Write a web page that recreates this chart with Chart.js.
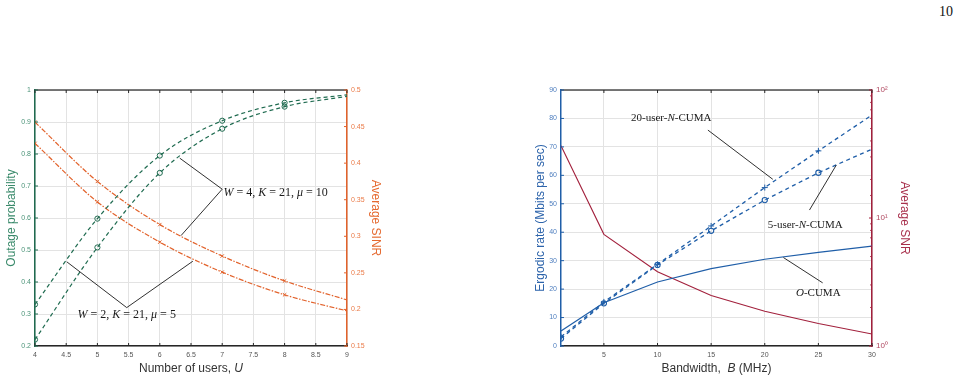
<!DOCTYPE html>
<html>
<head>
<meta charset="utf-8">
<script src="https://cdn.jsdelivr.net/npm/chart.js@4.4.1/dist/chart.umd.min.js"></script>
<style>
  body { margin: 0; background: #fff; width: 967px; height: 380px; position: relative; overflow: hidden; }
  #pageNo { position: absolute; left: 939px; top: 4px; font: 14px "Liberation Serif", serif; color: #111; }
  .box { position: absolute; top: 80px; height: 300px; }
</style>
</head>
<body>
<div id="pageNo">10</div>
<div class="box" style="left:0;width:400px"><canvas id="outageChart"></canvas></div>
<div class="box" style="left:529px;width:438px"><canvas id="rateChart"></canvas></div>
<script>
// left figure: outage probability / average SINR vs number of users
const users = [4, 5, 6, 7, 8, 9];
const outageW2 = [0.33, 0.598, 0.795, 0.904, 0.960, 0.985];
const outageW4 = [0.22, 0.508, 0.741, 0.879, 0.948, 0.980];
const sinrW4 = [0.456, 0.375, 0.316, 0.273, 0.239, 0.213];
const sinrW2 = [0.427, 0.347, 0.292, 0.251, 0.220, 0.198];
const userTicks = [4, 4.5, 5, 5.5, 6, 6.5, 7, 7.5, 8, 8.5, 9];

// right figure: ergodic rate / average SNR vs bandwidth
const bandwidth = [1, 5, 10, 15, 20, 25, 30];
const rateOCuma = [5.3, 15.2, 22.5, 27.2, 30.5, 32.9, 35.1];
const rate20User = [3.2, 15.5, 28.7, 42.2, 55.7, 68.6, 81.2];
const rate5User = [2.6, 15.0, 28.5, 40.5, 51.3, 60.9, 69.2];
const avgSnr = [36.7, 7.45, 3.8, 2.48, 1.87, 1.5, 1.24];
const bandwidthTicks = [5, 10, 15, 20, 25, 30];

const SANS = '"Liberation Sans", Arial, sans-serif';
const SERIF = '"Liberation Serif", serif';
const GREEN = '#1f6b50', ORANGE = '#e2622b', BLUE = '#1f5ea8', RED = '#a2203c';

const pts = (xs, ys) => xs.map((x, i) => ({ x: x, y: ys[i] }));
const fmt = v => String(Number(v.toFixed(3)));
const sup = { 0: '\u2070', 1: '\u00b9', 2: '\u00b2' };

// inward tick marks, top box line, annotations
const frame = {
  id: 'frame',
  afterDatasetsDraw(chart, args, opts) {
    const { ctx, chartArea: a, scales } = chart;
    ctx.save();
    ctx.strokeStyle = '#4d4d4d';
    ctx.lineWidth = 1.5;
    ctx.beginPath(); ctx.moveTo(a.left, a.top); ctx.lineTo(a.right, a.top); ctx.stroke();
    ctx.lineWidth = 1;
    for (const s of Object.values(scales)) {
      const isLog = s.type === 'logarithmic';
      ctx.strokeStyle = s.options.border.color;
      for (const t of s.ticks) {
        const p = s.getPixelForValue(t.value);
        const major = !isLog || Math.abs(Math.log10(t.value) - Math.round(Math.log10(t.value))) < 1e-9;
        const len = major ? 3 : 1.8;
        ctx.beginPath();
        if (s.isHorizontal()) {
          ctx.moveTo(p, a.bottom); ctx.lineTo(p, a.bottom - len);
          ctx.moveTo(p, a.top); ctx.lineTo(p, a.top + len);
        } else if (s.position === 'left') {
          ctx.moveTo(a.left, p); ctx.lineTo(a.left + len, p);
        } else {
          ctx.moveTo(a.right, p); ctx.lineTo(a.right - len, p);
        }
        ctx.stroke();
      }
    }

    const xs = scales.x, ys = scales[opts.yAxis];
    ctx.strokeStyle = '#1a1a1a';
    ctx.lineWidth = 0.9;
    for (const line of opts.lines) {
      ctx.beginPath();
      line.forEach(([x, y], i) => {
        const px = xs.getPixelForValue(x), py = ys.getPixelForValue(y);
        if (i) ctx.lineTo(px, py); else ctx.moveTo(px, py);
      });
      ctx.stroke();
    }

    const drawParts = (parts, family, size, px, py, align, color) => {
      const fonts = parts.map(p => (p[1] ? 'italic ' : '') + size + 'px ' + family);
      let w = 0;
      parts.forEach((p, i) => { ctx.font = fonts[i]; w += ctx.measureText(p[0]).width; });
      if (align === 'center') px -= w / 2;
      ctx.fillStyle = color;
      ctx.textBaseline = 'middle';
      ctx.textAlign = 'left';
      parts.forEach((p, i) => { ctx.font = fonts[i]; ctx.fillText(p[0], px, py); px += ctx.measureText(p[0]).width; });
    };
    for (const t of opts.texts) {
      drawParts(t.parts, SERIF, t.size, xs.getPixelForValue(t.x), ys.getPixelForValue(t.y), t.align, '#1a1a1a');
    }
    drawParts(opts.xTitle, SANS, 12, (a.left + a.right) / 2, xs.bottom - 11, 'center', '#333');
    ctx.restore();
  }
};

function fixedWidth(w) { return scale => { scale.width = w; }; }

new Chart(document.getElementById('outageChart'), {
  type: 'line',
  data: {
    datasets: [
      {
        data: pts(users, outageW2), yAxisID: 'y', borderColor: GREEN, borderWidth: 1.2,
        borderDash: [4, 3], cubicInterpolationMode: 'monotone', pointStyle: 'circle',
        pointRadius: [2.6, 2.6, 2.6, 2.6, 2.6, 0], pointBorderColor: GREEN,
        pointBackgroundColor: 'rgba(0,0,0,0)', pointBorderWidth: 1, clip: 0
      },
      {
        data: pts(users, outageW4), yAxisID: 'y', borderColor: GREEN, borderWidth: 1.2,
        borderDash: [4, 3], cubicInterpolationMode: 'monotone', pointStyle: 'circle',
        pointRadius: [2.6, 2.6, 2.6, 2.6, 2.6, 0], pointBorderColor: GREEN,
        pointBackgroundColor: 'rgba(0,0,0,0)', pointBorderWidth: 1, clip: 0
      },
      {
        data: pts(users, sinrW4), yAxisID: 'ySinr', borderColor: ORANGE, borderWidth: 1.2,
        borderDash: [5, 1.5, 1.5, 1.5], cubicInterpolationMode: 'monotone', pointStyle: 'crossRot',
        pointRadius: [2.4, 2.4, 2.4, 2.4, 2.4, 0], pointBorderColor: ORANGE, pointBorderWidth: 1, clip: 0
      },
      {
        data: pts(users, sinrW2), yAxisID: 'ySinr', borderColor: ORANGE, borderWidth: 1.2,
        borderDash: [5, 1.5, 1.5, 1.5], cubicInterpolationMode: 'monotone', pointStyle: 'crossRot',
        pointRadius: [2.4, 2.4, 2.4, 2.4, 2.4, 0], pointBorderColor: ORANGE, pointBorderWidth: 1, clip: 0
      }
    ]
  },
  options: {
    responsive: true,
    maintainAspectRatio: false,
    animation: false,
    layout: { padding: { top: 10, right: 13, left: 0, bottom: 0 } },
    plugins: {
      legend: { display: false },
      tooltip: { enabled: false },
      frame: {
        yAxis: 'y',
        lines: [
          [[6.32, 0.787], [7.0, 0.69], [6.34, 0.545]],
          [[4.51, 0.463], [5.47, 0.32], [6.53, 0.465]]
        ],
        texts: [
          { x: 7.02, y: 0.68, size: 12, align: 'left', parts: [['W', 1], [' = 4, ', 0], ['K', 1], [' = 21, ', 0], ['\u03bc', 1], [' = 10', 0]] },
          { x: 5.47, y: 0.296, size: 12, align: 'center', parts: [['W', 1], [' = 2, ', 0], ['K', 1], [' = 21, ', 0], ['\u03bc', 1], [' = 5', 0]] }
        ],
        xTitle: [['Number of users, ', 0], ['U', 1]]
      }
    },
    scales: {
      x: {
        type: 'linear', min: 4, max: 9,
        afterBuildTicks: s => { s.ticks = userTicks.map(v => ({ value: v })); },
        afterFit: s => { s.height = 34; },
        grid: { color: '#e3e3e3', drawTicks: false },
        border: { color: '#262626', width: 1.5 },
        ticks: { padding: 5, color: '#555', font: { family: SANS, size: 7 }, callback: fmt, maxRotation: 0 }
      },
      y: {
        position: 'left', min: 0.2, max: 1,
        ticks: { stepSize: 0.1, padding: 4, color: '#4c9479', font: { family: SANS, size: 7 }, callback: fmt },
        afterFit: fixedWidth(35),
        grid: { color: '#e3e3e3', drawTicks: false },
        border: { color: GREEN, width: 1.5 },
        title: { display: true, text: 'Outage probability', color: '#3a8a6b', font: { family: SANS, size: 12 }, padding: 4 }
      },
      ySinr: {
        position: 'right', min: 0.15, max: 0.5,
        ticks: { stepSize: 0.05, padding: 4, color: '#ea7a47', font: { family: SANS, size: 7 }, callback: fmt },
        afterFit: fixedWidth(40),
        grid: { drawOnChartArea: false, drawTicks: false },
        border: { color: ORANGE, width: 1.5 },
        title: { display: true, text: 'Average SINR', color: '#e5692f', font: { family: SANS, size: 12 }, padding: 4 }
      }
    }
  },
  plugins: [frame]
});

new Chart(document.getElementById('rateChart'), {
  type: 'line',
  data: {
    datasets: [
      {
        data: pts(bandwidth, rateOCuma), yAxisID: 'y', borderColor: BLUE, borderWidth: 1.2,
        pointRadius: 0, tension: 0, clip: 0
      },
      {
        data: pts(bandwidth, rate20User), yAxisID: 'y', borderColor: BLUE, borderWidth: 1.3,
        borderDash: [4, 3.5], tension: 0, pointStyle: 'cross',
        pointRadius: [3, 3, 3, 3, 3, 3, 0], pointBorderColor: BLUE, pointBorderWidth: 1, clip: 0
      },
      {
        data: pts(bandwidth, rate5User), yAxisID: 'y', borderColor: BLUE, borderWidth: 1.3,
        borderDash: [4, 3.5], tension: 0, pointStyle: 'circle',
        pointRadius: [2.6, 2.6, 2.6, 2.6, 2.6, 2.6, 0], pointBorderColor: BLUE,
        pointBackgroundColor: 'rgba(0,0,0,0)', pointBorderWidth: 1.1, clip: 0
      },
      {
        data: pts(bandwidth, avgSnr), yAxisID: 'ySnr', borderColor: RED, borderWidth: 1.1,
        pointRadius: 0, tension: 0, clip: 0
      }
    ]
  },
  options: {
    responsive: true,
    maintainAspectRatio: false,
    animation: false,
    layout: { padding: { top: 10, right: 51, left: 0, bottom: 0 } },
    plugins: {
      legend: { display: false },
      tooltip: { enabled: false },
      frame: {
        yAxis: 'y',
        lines: [
          [[14.7, 75.9], [20.75, 58.6]],
          [[24.17, 47.8], [26.67, 63.6]],
          [[25.4, 22.2], [21.74, 31.1]]
        ],
        texts: [
          { x: 11.28, y: 80.2, size: 11, align: 'center', parts: [['20-user-', 0], ['N', 1], ['-CUMA', 0]] },
          { x: 23.77, y: 42.5, size: 11, align: 'center', parts: [['5-user-', 0], ['N', 1], ['-CUMA', 0]] },
          { x: 24.99, y: 18.65, size: 11, align: 'center', parts: [['O', 1], ['-CUMA', 0]] }
        ],
        xTitle: [['Bandwidth,  ', 0], ['B', 1], [' (MHz)', 0]]
      }
    },
    scales: {
      x: {
        type: 'linear', min: 1, max: 30,
        afterBuildTicks: s => { s.ticks = bandwidthTicks.map(v => ({ value: v })); },
        afterFit: s => { s.height = 34; },
        grid: { color: '#e3e3e3', drawTicks: false },
        border: { color: '#262626', width: 1.5 },
        ticks: { padding: 5, color: '#555', font: { family: SANS, size: 7 }, callback: fmt, maxRotation: 0 }
      },
      y: {
        position: 'left', min: 0, max: 90,
        ticks: { stepSize: 10, padding: 4, color: '#4f7fbf', font: { family: SANS, size: 7 } },
        afterFit: fixedWidth(32),
        grid: { color: '#e3e3e3', drawTicks: false },
        border: { color: BLUE, width: 1.5 },
        title: { display: true, text: 'Ergodic rate (Mbits per sec)', color: '#2d64ab', font: { family: SANS, size: 12 }, padding: 4 }
      },
      ySnr: {
        type: 'logarithmic', position: 'right', min: 1, max: 100,
        ticks: {
          padding: 4, color: '#b04860', font: { family: SANS, size: 8 }, autoSkip: false,
          callback: v => {
            const e = Math.log10(v);
            return Math.abs(e - Math.round(e)) < 1e-9 ? '10' + sup[Math.round(e)] : '';
          }
        },
        afterFit: fixedWidth(44),
        grid: { drawOnChartArea: false, drawTicks: false },
        border: { color: RED, width: 1.5 },
        title: { display: true, text: 'Average SNR', color: '#a8304c', font: { family: SANS, size: 12 }, padding: 4 }
      }
    }
  },
  plugins: [frame]
});
</script>
</body>
</html>
